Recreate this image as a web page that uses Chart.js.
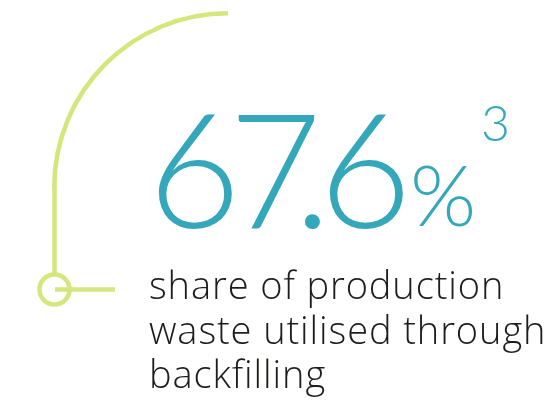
<!DOCTYPE html>
<html>
<head>
<meta charset="utf-8">
<script src="https://cdn.jsdelivr.net/npm/chart.js@4"></script>
<style>
  html, body { margin: 0; padding: 0; background: #fff; }
  #stage { position: relative; width: 555px; height: 417px; overflow: hidden; font-family: 'Lato', 'Open Sans', sans-serif; }
  #arc-box { position: absolute; left: 52px; top: 11px; width: 176px; height: 176px; }
  #line-box { position: absolute; left: 0; top: 0; width: 555px; height: 417px; }
  .figure { position: absolute; color: #35a7ba; font-weight: 300; white-space: nowrap; }
  #value { left: 148px; top: 66px; font-size: 160px; line-height: 200px; letter-spacing: -12px; }
  #value .dot { margin-left: -16px; }
  #unit { left: 410px; top: 143px; font-size: 85px; line-height: 100px; }
  #note { left: 481px; top: 92px; font-size: 50px; line-height: 60px; }
  #caption { position: absolute; left: 149px; top: 262px; font-family: 'Open Sans', sans-serif; font-size: 38px; letter-spacing: 0.9px; line-height: 44.5px; color: #1d1d1b; font-weight: 300; white-space: nowrap; }
</style>
</head>
<body>
<div id="stage">
  <div id="arc-box"><canvas id="arc-chart"></canvas></div>
  <div id="line-box"><canvas id="line-chart"></canvas></div>
  <div class="figure" id="value"></div>
  <div class="figure" id="unit"></div>
  <div class="figure" id="note"></div>
  <div id="caption"></div>
</div>
<script>
// Headline figure
const headline = '67.6';
const headlineUnit = '%';
const footnote = '3';
const captionLines = ['share of production', 'waste utilised through', 'backfilling'];

// Decoration: quarter arc + stem + node + tick
const arcValues = [1];
const stemPoints = [{ x: 54.5, y: 186 }, { x: 54.5, y: 274 }];
const nodePoints = [{ x: 54.5, y: 289.5 }];
const tickPoints = [{ x: 55, y: 289.5 }, { x: 115, y: 289.5 }];

const green = '#d5e67c';

document.getElementById('value').innerHTML = headline.split('')
  .map(c => `<span class="${c === '.' ? 'dot' : 'digit'}">${c}</span>`).join('');
document.getElementById('unit').textContent = headlineUnit;
document.getElementById('note').textContent = footnote;
document.getElementById('caption').innerHTML = captionLines.join('<br>');

new Chart(document.getElementById('arc-chart'), {
  type: 'doughnut',
  data: {
    labels: ['arc'],
    datasets: [{ data: arcValues, backgroundColor: green, borderWidth: 0 }]
  },
  options: {
    responsive: true,
    maintainAspectRatio: false,
    animation: false,
    rotation: 270,
    circumference: 90,
    cutout: '97.4%',
    plugins: { legend: { display: false }, tooltip: { enabled: false } },
    events: []
  }
});

new Chart(document.getElementById('line-chart'), {
  type: 'scatter',
  data: {
    datasets: [
      { data: stemPoints, showLine: true, borderColor: green, borderWidth: 4.5, pointRadius: 0 },
      { data: tickPoints, showLine: true, borderColor: green, borderWidth: 4.5, pointRadius: 0 },
      { data: nodePoints, pointRadius: 15, pointBorderWidth: 4.5, pointBorderColor: green, pointBackgroundColor: 'rgba(0,0,0,0)' }
    ]
  },
  options: {
    responsive: true,
    maintainAspectRatio: false,
    animation: false,
    layout: { padding: 0, autoPadding: false },
    scales: {
      x: { type: 'linear', min: 0, max: 555, display: false },
      y: { type: 'linear', min: 0, max: 417, reverse: true, display: false }
    },
    plugins: { legend: { display: false }, tooltip: { enabled: false } },
    events: []
  }
});
</script>
</body>
</html>
